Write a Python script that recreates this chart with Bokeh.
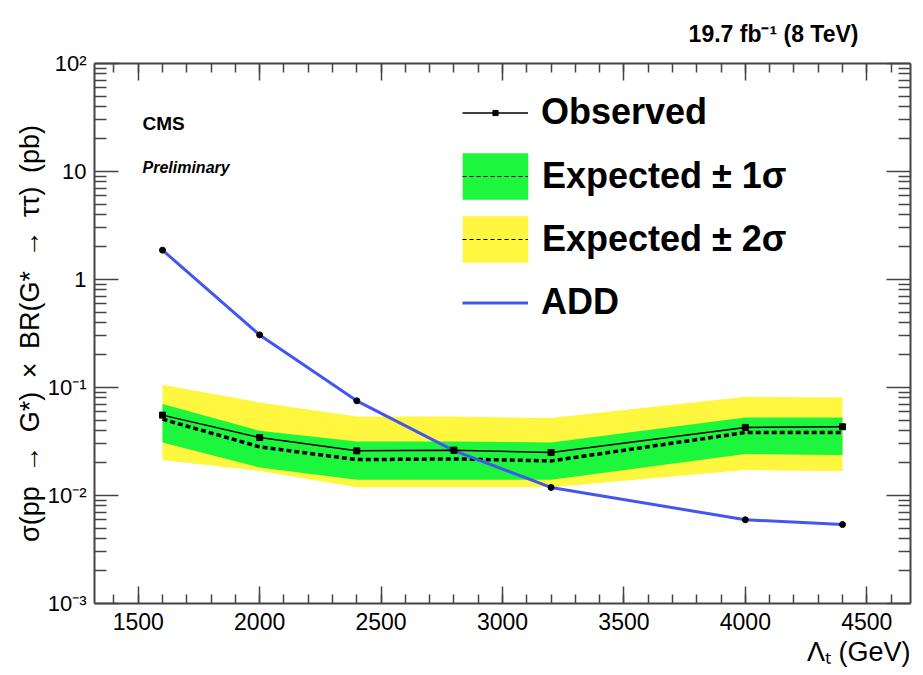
import math
from bokeh.plotting import figure
from bokeh.models import (FixedTicker, LinearAxis, LogAxis, Range1d, Label, Title,
                          Legend, LegendItem, CustomJSTickFormatter)
from bokeh.embed import file_html
from bokeh.resources import INLINE

# ---------------- data ----------------
lam_t = [1600, 2000, 2400, 2800, 3200, 4000, 4400]
observed = [0.0555, 0.0344, 0.0259, 0.0263, 0.0250, 0.0427, 0.0433]
expected = [0.0509, 0.0282, 0.0215, 0.0218, 0.0209, 0.0383, 0.0383]
exp_1s_lo = [0.0310, 0.0182, 0.0140, 0.0140, 0.0140, 0.0242, 0.0237]
exp_1s_hi = [0.0702, 0.0397, 0.0316, 0.0316, 0.0310, 0.0527, 0.0527]
exp_2s_lo = [0.0213, 0.0169, 0.0119, 0.0119, 0.0119, 0.0172, 0.0168]
exp_2s_hi = [0.1060, 0.0726, 0.0538, 0.0538, 0.0521, 0.0820, 0.0807]
add_xsec = [1.87, 0.307, 0.0753, 0.0260, 0.01187, 0.00596, 0.00538]

x_major = [1500, 2000, 2500, 3000, 3500, 4000, 4500]
x_minor = list(range(1400, 4700, 100))
y_major = [0.001, 0.01, 0.1, 1, 10, 100]
y_major_labels = {0.001: "10\u207b\u00b3", 0.01: "10\u207b\u00b2", 0.1: "10\u207b\u00b9",
                  1: "1", 10: "10", 100: "10\u00b2"}
y_minor = [k * 10.0 ** e for e in range(-3, 2) for k in range(2, 10)]

# ---------------- layout constants ----------------
W, H = 923, 675
FL, FT, FW, FH = 94, 63, 816, 540
X0, X1 = 1320, 4680
LY0, LY1 = -3, 2

FONT = "'Liberation Sans', Arial, Helvetica, sans-serif"
AX = "#444444"
GREEN = "#1cf63c"
YELLOW = "#fff63f"
BLUE = "#4456f2"
NAN = float("nan")
SP = "\u2002"

p = figure(width=W, height=H, x_range=Range1d(X0, X1), y_range=Range1d(10 ** LY0, 10 ** LY1),
           y_axis_type="log", output_backend="svg", toolbar_location=None,
           min_border_left=FL, min_border_right=W - FL - FW,
           min_border_top=FT, min_border_bottom=H - FT - FH)
p.grid.visible = False
p.outline_line_color = None
p.background_fill_color = "white"
p.border_fill_color = "white"

xt = FixedTicker(ticks=x_major, minor_ticks=x_minor)
yt = FixedTicker(ticks=y_major, minor_ticks=y_minor)
blank = CustomJSTickFormatter(code="return ''")

def style_axis(ax, tin, tmin, labels=True, size="23px"):
    ax.axis_line_color = AX
    ax.axis_line_width = 2
    ax.major_tick_line_color = AX
    ax.minor_tick_line_color = AX
    ax.major_tick_line_width = 1.5
    ax.minor_tick_line_width = 1.5
    ax.major_tick_in = tin
    ax.major_tick_out = 0
    ax.minor_tick_in = tmin
    ax.minor_tick_out = 0
    ax.major_label_text_font = FONT
    ax.major_label_text_color = "black"
    ax.major_label_text_font_size = size
    if not labels:
        ax.formatter = blank
        ax.major_label_standoff = 0
        ax.major_label_text_font_size = "1px"

xa = p.xaxis[0]
xa.ticker = xt
style_axis(xa, 17, 9, size="23px")
xa.major_label_standoff = 9

ya = p.yaxis[0]
ya.ticker = yt
ya.major_label_overrides = y_major_labels
style_axis(ya, 24, 12, size="22px")
ya.major_label_standoff = 8

top = LinearAxis(ticker=xt)
style_axis(top, 17, 9, labels=False)
p.add_layout(top, "above")
right = LogAxis(ticker=yt)
style_axis(right, 24, 12, labels=False)
p.add_layout(right, "right")

# ---------------- data marks ----------------
p.varea(x=lam_t, y1=exp_2s_lo, y2=exp_2s_hi, fill_color=YELLOW)
p.varea(x=lam_t, y1=exp_1s_lo, y2=exp_1s_hi, fill_color=GREEN)
p.line(lam_t, expected, line_color="black", line_width=3.5, line_dash="5 3")
p.line(lam_t, add_xsec, line_color=BLUE, line_width=3)
p.scatter(lam_t, add_xsec, marker="circle", size=6, color="black")
p.line(lam_t, observed, line_color="black", line_width=1.5)
p.scatter(lam_t, observed, marker="square", size=6, color="black")

# ---------------- legend (legend-only renderers, nothing drawn in the frame) ----------------
lg_obs_line = p.line([NAN], [NAN], line_color="black", line_width=1.3)
lg_obs_pt = p.scatter([NAN], [NAN], marker="square", color="black")
lg_g = p.varea(x=[NAN], y1=[NAN], y2=[NAN], fill_color=GREEN)
lg_y = p.varea(x=[NAN], y1=[NAN], y2=[NAN], fill_color=YELLOW)
lg_dash = p.line([NAN], [NAN], line_color="black", line_width=1.2, line_dash="4 3")
lg_add = p.line([NAN], [NAN], line_color=BLUE, line_width=3)

def make_legend(items, gw, gh, loc, spacing=0, standoff=13, size="36px"):
    lg = Legend(items=items, location=loc, glyph_width=gw, glyph_height=gh,
                label_standoff=standoff, spacing=spacing, padding=0, margin=0,
                border_line_color=None, background_fill_alpha=0,
                label_text_font=FONT, label_text_font_style="bold",
                label_text_color="black",
                label_text_font_size=size, label_height=gh)
    p.add_layout(lg)
    return lg

LX = 462 - FL
make_legend([LegendItem(label="Observed", renderers=[lg_obs_line, lg_obs_pt])], 66, 13,
            (LX, FT + FH - 113 - 20))
# band boxes (area legend glyphs are inset by 10% on each side)
make_legend([LegendItem(label="Expected \u00b1 1\u03c3", renderers=[lg_g]),
             LegendItem(label="Expected \u00b1 2\u03c3", renderers=[lg_y])], 82, 58,
            (LX - 8, FT + FH - 268), spacing=5, standoff=6)
# dashed expected lines drawn inside the boxes
make_legend([LegendItem(label=" ", renderers=[lg_dash]),
             LegendItem(label="  ", renderers=[lg_dash])], 66, 58,
            (LX, FT + FH - 268), spacing=5, size="10px")
make_legend([LegendItem(label="ADD", renderers=[lg_add])], 66, 13,
            (LX, FT + FH - 303 - 20))

# ---------------- texts inside the frame ----------------
p.add_layout(Label(x=142, y=123, x_units="canvas", y_units="canvas", text="CMS",
                   text_baseline="alphabetic", text_font=FONT, text_font_style="bold",
                   text_font_size="19px", text_color="black"))
p.add_layout(Label(x=142, y=167, x_units="canvas", y_units="canvas", text="Preliminary",
                   text_baseline="alphabetic", text_font=FONT, text_font_style="bold italic",
                   text_font_size="16px", text_color="black"))

# ---------------- texts outside the frame (titles on the side panels) ----------------
p.add_layout(Title(text=" ", standoff=0, text_font=FONT, text_font_size="9px"), "above")
p.add_layout(Title(text="19.7 fb\u207b\u00b9 (8 TeV)", align="right", offset=52, standoff=10,
                   text_font=FONT, text_font_style="bold", text_font_size="23px",
                   text_color="black"), "above")
p.add_layout(Title(text="\u039b\u209c (GeV)", align="right", offset=0, standoff=4,
                   text_font=FONT, text_font_style="normal", text_font_size="27px",
                   text_color="black"), "below")
ylabel = ("\u03c3(pp" + SP + "\u2192" + SP + "G*)" + SP + "\u00d7" + SP + "BR(G*" + SP +
          "\u2192" + SP + "\u03c4\u03c4)" + SP + "(pb)")
p.add_layout(Title(text=ylabel, align="center", offset=23, standoff=0,
                   text_font=FONT, text_font_style="normal", text_font_size="27px",
                   text_color="black"), "left")

open("out.html", "w").write(file_html(p, INLINE))
